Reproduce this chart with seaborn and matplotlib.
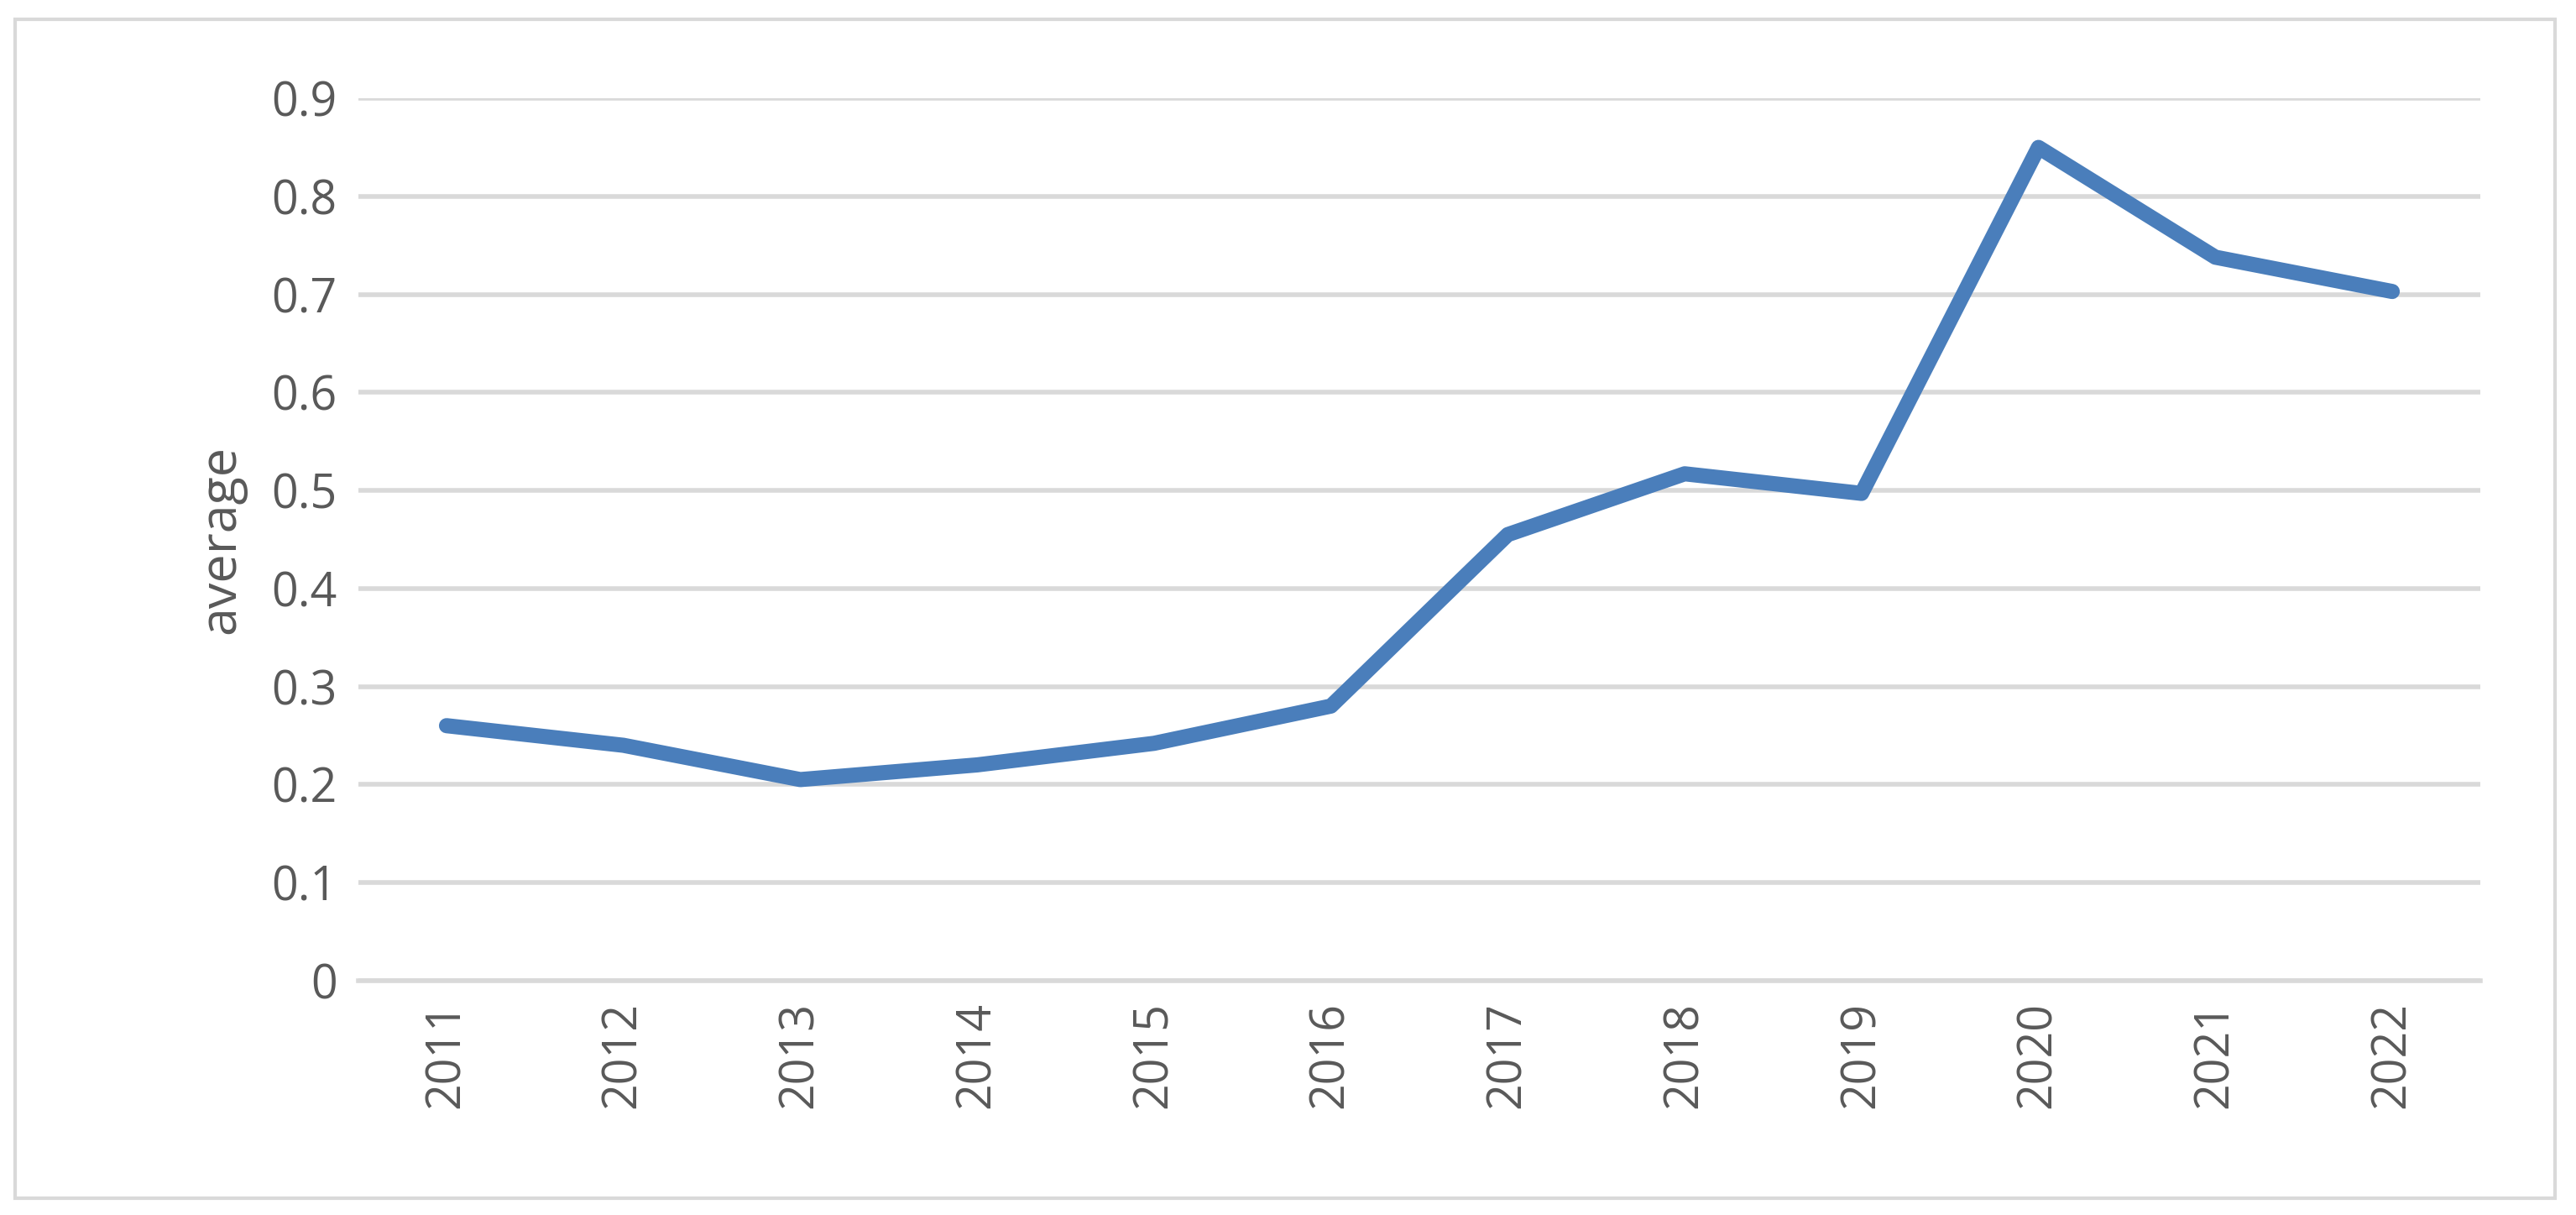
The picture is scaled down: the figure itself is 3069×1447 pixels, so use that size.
import matplotlib
matplotlib.use("Agg")
import matplotlib.pyplot as plt
import seaborn as sns
import pandas as pd
from matplotlib.patches import Rectangle

years = ["2011", "2012", "2013", "2014", "2015", "2016",
         "2017", "2018", "2019", "2020", "2021", "2022"]
average = [0.26, 0.24, 0.205, 0.22, 0.242, 0.28,
           0.455, 0.517, 0.497, 0.85, 0.738, 0.703]
yticks = [0, 0.1, 0.2, 0.3, 0.4, 0.5, 0.6, 0.7, 0.8, 0.9]
ytick_labels = ["0", "0.1", "0.2", "0.3", "0.4", "0.5", "0.6", "0.7", "0.8", "0.9"]

sns.set_style("white")
plt.rcParams['font.family'] = ['Open Sans', 'DejaVu Sans']

df = pd.DataFrame({"year": years, "average": average})

fig = plt.figure(figsize=(30.69, 14.47), dpi=100)
fig.patches.append(Rectangle((0.006, 0.014), 0.986, 0.97, transform=fig.transFigure,
                             fill=False, edgecolor="#d9d9d9", linewidth=3))
ax = fig.add_axes([0.139, 0.193, 0.824, 0.726])

sns.lineplot(data=df, x="year", y="average", ax=ax, color="#4a7ebb",
             linewidth=13, solid_capstyle="round", sort=False)

ax.set_ylim(0, 0.9)
ax.set_xlim(-0.5, len(years) - 0.5)
ax.set_yticks(yticks)
ax.set_yticklabels(ytick_labels)
ax.yaxis.grid(True, color="#d9d9d9", linewidth=4)
ax.set_axisbelow(True)
for s in ["top", "right", "left"]:
    ax.spines[s].set_visible(False)
ax.spines["bottom"].set_color("#d9d9d9")
ax.spines["bottom"].set_linewidth(4)
ax.tick_params(axis="both", length=0, labelsize=40, labelcolor="#595959", pad=18)
plt.setp(ax.get_xticklabels(), rotation=90)
ax.set_xlabel("")
ax.set_ylabel("average", fontsize=44, color="#595959", labelpad=22)

fig.savefig("out.png", dpi=100)
